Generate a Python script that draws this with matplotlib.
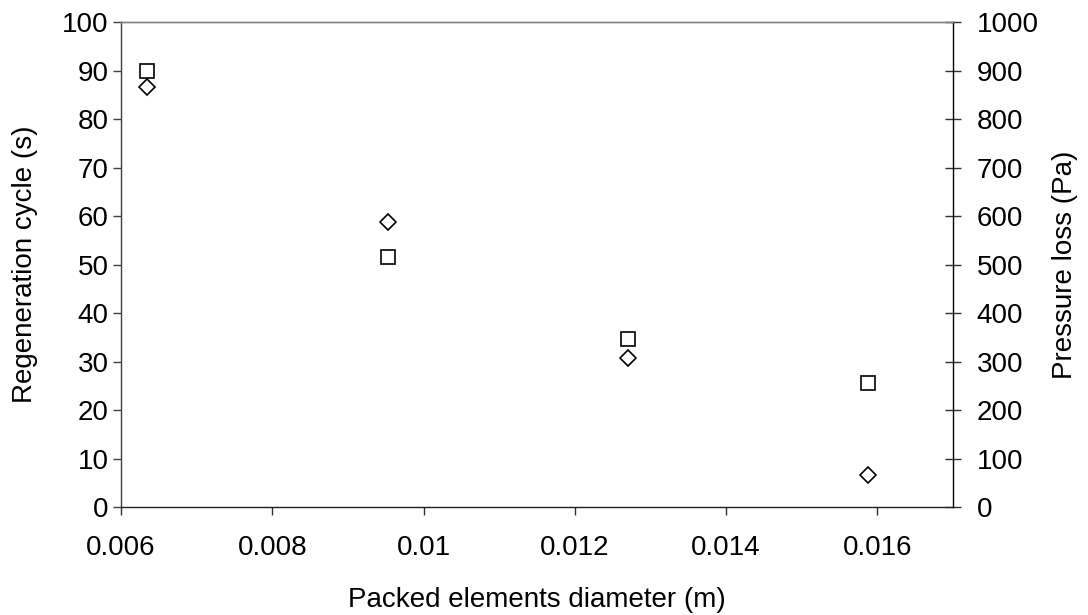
import matplotlib.pyplot as plt
from matplotlib import rcParams

rcParams.update({'font.size': 20, 'font.family': 'Liberation Sans'})

# packed element diameters (m)
diameter = [0.00635, 0.009525, 0.0127, 0.015875]
# regeneration cycle (s), left axis
regen_cycle = [86.7, 58.8, 30.7, 6.7]
# pressure loss (Pa), right axis
pressure_loss = [899, 515, 346, 255]

fig = plt.figure(figsize=(10.88, 6.15), dpi=100)
ax = fig.add_axes([0.1112, 0.1756, 0.7647, 0.7886])
ax2 = ax.twinx()

ax.plot(diameter, regen_cycle, linestyle='none', marker='D', ms=8.5,
        mfc='white', mec='black', mew=1.2, zorder=3)
ax2.plot(diameter, pressure_loss, linestyle='none', marker='s', ms=10,
         mfc='none', mec='black', mew=1.2, zorder=3)

ax.set_xlim(0.006, 0.017)
ax.set_xticks([0.006, 0.008, 0.01, 0.012, 0.014, 0.016])
ax.set_xticklabels(['0.006', '0.008', '0.01', '0.012', '0.014', '0.016'])
ax.set_ylim(0, 100)
ax.set_yticks(range(0, 101, 10))
ax2.set_ylim(0, 1000)
ax2.set_yticks(range(0, 1001, 100))

for a in (ax, ax2):
    for s in a.spines.values():
        s.set_linewidth(1.0)
ax.spines['left'].set_color('#404040')
ax.spines['bottom'].set_color('#202020')
ax2.spines['left'].set_visible(False)
ax2.spines['bottom'].set_visible(False)
ax2.spines['right'].set_color('black')
ax.spines['top'].set_color('#808080')
ax2.spines['top'].set_color('#808080')
ax.spines['right'].set_visible(False)

ax.tick_params(axis='x', direction='out', length=6, width=1, color='#303030', pad=14)
ax.tick_params(axis='y', direction='out', length=6, width=1, color='#404040', pad=3)
ax2.tick_params(axis='y', direction='inout', length=12, width=1, color='#303030', pad=11)

ax.set_xlabel('Packed elements diameter (m)', labelpad=19)
ax.set_ylabel('Regeneration cycle (s)', labelpad=17)
ax2.set_ylabel('Pressure loss (Pa)', labelpad=10)

plt.savefig('out.png', dpi=100)
